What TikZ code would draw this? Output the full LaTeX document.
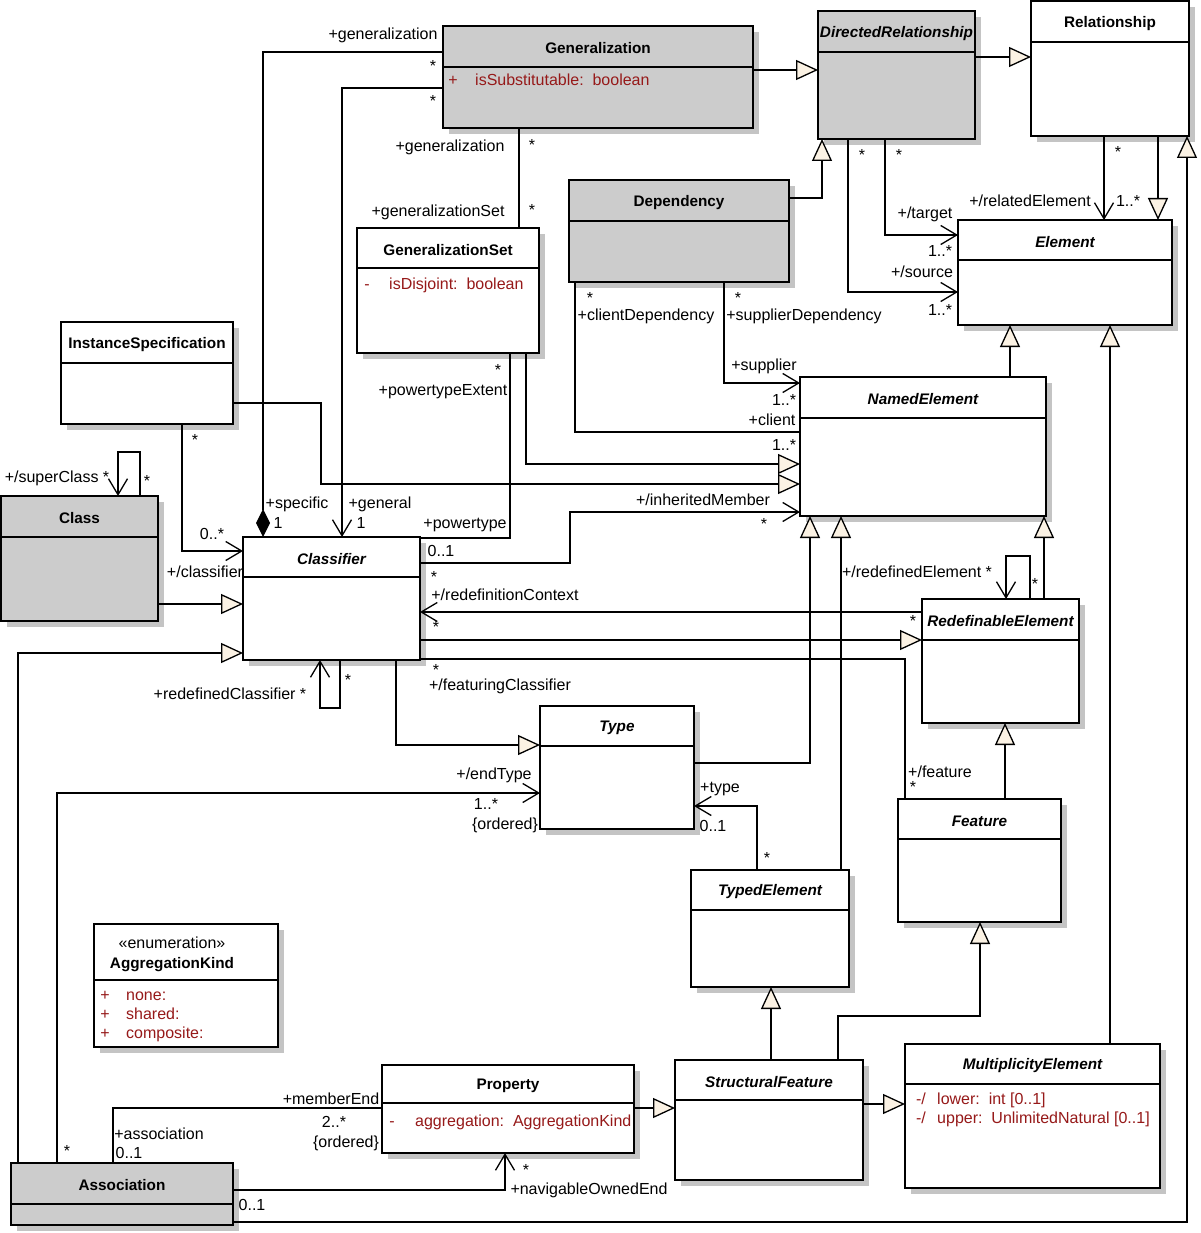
\documentclass[tikz,border=0pt]{standalone}
\usepackage{fontspec}
\setmainfont{Liberation Sans}
\usetikzlibrary{arrows.meta,calc,shadows}
\definecolor{boxgray}{RGB}{204,204,204}
\definecolor{shgray}{RGB}{196,196,196}
\definecolor{tri}{RGB}{251,242,228}
\definecolor{attrred}{RGB}{150,25,25}
\newcounter{lbc}
\newcommand\ucls[8]{%
  \node[ubox,#8,minimum width=#4pt,minimum height=#5pt,anchor=north west] (#1) at (#2,#3) {};
  \draw[sepline] ($(#1.north west)+(0,#6)$) -- ($(#1.north east)+(0,#6)$);
  \node[ttl] (#1-t) at ($(#1.north)+(0,#6/2+2)$) {#7};
}
\newcommand\lb[3]{\stepcounter{lbc}\node[lbl] (l\arabic{lbc}) at (#1,#2) {#3};}
\newcommand\st[2]{\stepcounter{lbc}\node[starl] (st\arabic{lbc}) at (#1,#2) {*};}
\tikzset{
  ubox/.style={draw,line width=1.5pt,fill=white,inner sep=0pt,outer sep=0pt,
    drop shadow={shadow xshift=6pt,shadow yshift=-6pt,fill=shgray,opacity=1}},
  graybox/.style={fill=boxgray},
  plainbox/.style={},
  sepline/.style={line width=1.5pt},
  ttl/.style={font=\fontsize{15.3}{18}\selectfont\bfseries,inner sep=0pt},
  lbl/.style={font=\fontsize{16}{19}\selectfont,inner sep=0pt,text height=11pt,text depth=3pt},
  starl/.style={font=\fontsize{16}{19}\selectfont,inner sep=0pt,text height=11.5pt,text depth=-6.5pt},
  conn/.style={line width=1.3pt},
  isa/.style={-{Triangle[length=22pt,width=20pt,fill=tri]}},
  nava/.style={-{Straight Barb[length=16pt,width=19pt]}},
  compo/.style={{Diamond[length=28pt,width=14pt,fill=black]}-},
}
\begin{document}
\begin{tikzpicture}[x=1pt,y=-1pt]
\useasboundingbox (0,0) rectangle (1200,1233);
\fill[white] (0,0) rectangle (1200,1233);
% ---------- classes ----------
\ucls{genz}{443}{26}{310}{102}{41}{Generalization}{graybox}
\ucls{dr}{818}{11}{157}{128}{41}{\itshape DirectedRelationship}{graybox}
\ucls{rel}{1031}{1}{158}{135}{41}{Relationship}{plainbox}
\ucls{elem}{958}{220}{214}{105}{40}{\itshape Element}{plainbox}
\ucls{dep}{569}{180}{220}{102}{41}{Dependency}{graybox}
\ucls{gset}{357}{228}{182}{125}{40}{GeneralizationSet}{plainbox}
\ucls{inst}{61}{322}{172}{102}{41}{InstanceSpecification}{plainbox}
\ucls{class}{1}{496}{157}{125}{41}{Class}{graybox}
\ucls{cls}{243}{537}{177}{123}{40}{\itshape Classifier}{plainbox}
\ucls{ne}{800}{377}{246}{139}{41}{\itshape NamedElement}{plainbox}
\ucls{re}{922}{599}{157}{124}{41}{\itshape RedefinableElement}{plainbox}
\ucls{type}{540}{706}{154}{123}{40}{\itshape Type}{plainbox}
\ucls{feat}{898}{799}{163}{123}{40}{\itshape Feature}{plainbox}
\ucls{te}{691}{870}{158}{117}{40}{\itshape TypedElement}{plainbox}
\ucls{agg}{94}{924}{184}{123}{56}{}{plainbox}
\node[lbl] (agg-s) at (172,944) {«enumeration»};
\node[ttl] (agg-n) at (172,965) {AggregationKind};
\ucls{prop}{382}{1065}{252}{88}{38}{Property}{plainbox}
\ucls{sf}{675}{1060}{188}{120}{40}{\itshape StructuralFeature}{plainbox}
\ucls{mult}{905}{1044}{255}{144}{40}{\itshape MultiplicityElement}{plainbox}
\ucls{assoc}{11}{1163}{222}{62}{41}{Association}{graybox}
% ---------- attributes ----------
\node[lbl,attrred] (gz-v) at (453,82) {+};
\node[lbl,attrred,anchor=west] (gz-a) at (475,82) {isSubstitutable:\ \ boolean};
\node[lbl,attrred] (gs-v) at (367,285) {-};
\node[lbl,attrred,anchor=west] (gs-a) at (389,285) {isDisjoint:\ \ boolean};
\node[lbl,attrred] (ak-v1) at (105,996) {+};
\node[lbl,attrred,anchor=west] (ak-a1) at (126,996) {none:};
\node[lbl,attrred] (ak-v2) at (105,1015) {+};
\node[lbl,attrred,anchor=west] (ak-a2) at (126,1015) {shared:};
\node[lbl,attrred] (ak-v3) at (105,1034) {+};
\node[lbl,attrred,anchor=west] (ak-a3) at (126,1034) {composite:};
\node[lbl,attrred] (pr-v) at (392,1122) {-};
\node[lbl,attrred,anchor=west] (pr-a) at (415,1122) {aggregation:\ \ AggregationKind};
\node[lbl,attrred] (me-v1) at (921,1100) {-/};
\node[lbl,attrred,anchor=west] (me-a1) at (937,1100) {lower:\ \ int [0..1]};
\node[lbl,attrred] (me-v2) at (921,1119) {-/};
\node[lbl,attrred,anchor=west] (me-a2) at (937,1119) {upper:\ \ UnlimitedNatural [0..1]};
% ---------- connectors ----------
\draw[conn,compo] (cls.north -| 263,0) |- (genz.west |- 0,52);
\draw[conn,nava] (genz.west |- 0,88) -| (cls.north -| 342,0);
\draw[conn] (genz.south -| 519,0) -- (gset.north -| 519,0);
\draw[conn,isa] (genz.east |- 0,70) -- (dr.west |- 0,70);
\draw[conn,isa] (dr.east |- 0,57) -- (rel.west |- 0,57);
\draw[conn,isa] (dep.east |- 0,198) -| (dr.south -| 822,0);
\draw[conn,nava] (dr.south -| 848,0) |- (elem.west |- 0,292);
\draw[conn,nava] (dr.south -| 885,0) |- (elem.west |- 0,235);
\draw[conn,nava] (rel.south -| 1104,0) -- (elem.north -| 1104,0);
\draw[conn,isa] (rel.south -| 1158,0) -- (elem.north -| 1158,0);
\draw[conn,isa] (assoc.east |- 0,1222) -| (rel.south -| 1187,0);
\draw[conn,isa] (ne.north -| 1010,0) -- (elem.south -| 1010,0);
\draw[conn,isa] (mult.north -| 1110,0) -- (elem.south -| 1110,0);
\draw[conn] (dep.south -| 575,0) |- (ne.west |- 0,432);
\draw[conn,nava] (dep.south -| 724,0) |- (ne.west |- 0,383);
\draw[conn,isa] (gset.south -| 526,0) |- (ne.west |- 0,464);
\draw[conn,isa] (inst.east |- 0,403) -| (321,484) -- (ne.west |- 0,484);
\draw[conn] (gset.south -| 510,0) |- (cls.east |- 0,538);
\draw[conn,nava] (inst.south -| 182,0) |- (cls.west |- 0,551);
\draw[conn,isa] (class.east |- 0,604) -- (cls.west |- 0,604);
\draw[conn,nava] (class.north -| 140,0) -- (140,452) -| (class.north -| 118,0);
\draw[conn,isa] (assoc.north -| 18,0) |- (cls.west |- 0,653);
\draw[conn,nava] (cls.east |- 0,563) -| (570,512) -- (ne.west |- 0,512);
\draw[conn,nava] (re.west |- 0,612) -- (cls.east |- 0,612);
\draw[conn,isa] (cls.east |- 0,640) -- (re.west |- 0,640);
\draw[conn] (cls.east |- 0,659) -| (feat.north -| 905,0);
\draw[conn,nava] (cls.south -| 340,0) -- (340,708) -| (cls.south -| 320,0);
\draw[conn,isa] (cls.south -| 396,0) |- (type.west |- 0,745);
\draw[conn,isa] (type.east |- 0,763) -| (ne.south -| 810,0);
\draw[conn,isa] (te.north -| 841,0) -- (ne.south -| 841,0);
\draw[conn,nava] (te.north -| 757,0) |- (type.east |- 0,806);
\draw[conn,nava] (assoc.north -| 57,0) |- (type.west |- 0,793);
\draw[conn] (assoc.north -| 113,0) |- (prop.west |- 0,1108);
\draw[conn,nava] (assoc.east |- 0,1190) -| (prop.south -| 505,0);
\draw[conn,isa] (prop.east |- 0,1108) -- (sf.west |- 0,1108);
\draw[conn,isa] (sf.east |- 0,1104) -- (mult.west |- 0,1104);
\draw[conn,isa] (sf.north -| 771,0) -- (te.south -| 771,0);
\draw[conn,isa] (sf.north -| 838,0) |- (980,1016) -- (feat.south -| 980,0);
\draw[conn,isa] (feat.north -| 1005,0) -- (re.south -| 1005,0);
\draw[conn,isa] (re.north -| 1044,0) -- (ne.south -| 1044,0);
\draw[conn,nava] (re.north -| 1030,0) -- (1030,556) -| (re.north -| 1006,0);
% ---------- labels ----------
\lb{383}{36}{+generalization}
\st{433}{66}
\st{433}{101}
\lb{450}{148}{+generalization}
\st{532}{145}
\lb{438}{213}{+generalizationSet}
\st{532}{210}
\st{862}{155}
\st{899}{155}
\st{1118}{152}
\lb{1030}{203}{+/relatedElement}
\lb{1128}{203}{1..*}
\lb{925}{215}{+/target}
\lb{940}{252}{1..*}
\lb{922}{273}{+/source}
\lb{940}{311}{1..*}
\st{590}{298}
\lb{646}{316}{+clientDependency}
\st{738}{298}
\lb{804}{316}{+supplierDependency}
\lb{764}{366}{+supplier}
\lb{784}{401}{1..*}
\lb{772}{421}{+client}
\lb{784}{446}{1..*}
\st{498}{370}
\lb{443}{391}{+powertypeExtent}
\st{195}{440}
\lb{57}{478}{+/superClass *}
\st{147}{481}
\lb{297}{504}{+specific}
\lb{278}{524}{1}
\lb{380}{504}{+general}
\lb{361}{524}{1}
\lb{465}{524}{+powertype}
\lb{441}{552}{0..1}
\lb{212}{535}{0..*}
\lb{205}{573}{+/classifier}
\lb{703}{501}{+/inheritedMember}
\st{764}{524}
\st{434}{577}
\lb{505}{596}{+/redefinitionContext}
\st{436}{627}
\st{436}{670}
\lb{500}{686}{+/featuringClassifier}
\lb{230}{695}{+redefinedClassifier *}
\st{348}{680}
\lb{917}{573}{+/redefinedElement *}
\st{1035}{584}
\st{913}{621}
\lb{940}{773}{+/feature}
\st{913}{787}
\lb{494}{775}{+/endType}
\lb{486}{805}{1..*}
\lb{505}{825}{\{ordered\}}
\lb{720}{788}{+type}
\lb{713}{827}{0..1}
\st{767}{858}
\lb{331}{1100}{+memberEnd}
\lb{334}{1123}{2..*}
\lb{346}{1143}{\{ordered\}}
\lb{159}{1135}{+association}
\lb{129}{1154}{0..1}
\st{67}{1151}
\st{526}{1170}
\lb{589}{1190}{+navigableOwnedEnd}
\lb{252}{1206}{0..1}
\end{tikzpicture}
\end{document}
